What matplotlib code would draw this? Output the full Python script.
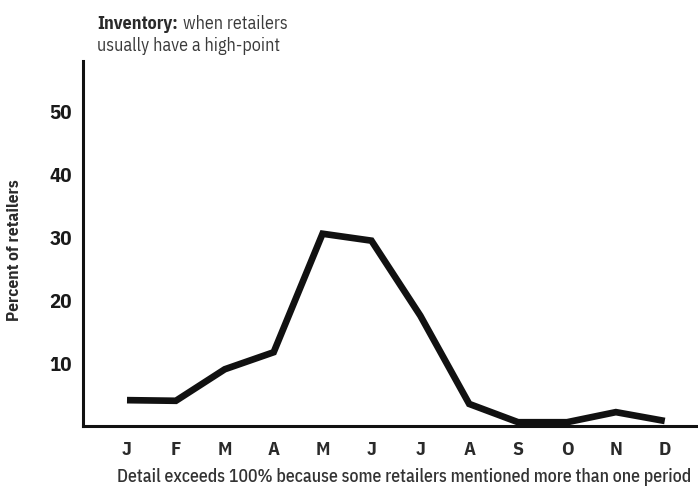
import matplotlib
matplotlib.use("Agg")
import matplotlib.pyplot as plt

months = ["J", "F", "M", "A", "M", "J", "J", "A", "S", "O", "N", "D"]
pct_retailers = [4.1, 4.0, 9.0, 11.7, 30.5, 29.4, 17.5, 3.5, 0.6, 0.6, 2.2, 0.8]
y_ticks = [10, 20, 30, 40, 50]

plt.rcParams["font.family"] = ["IBM Plex Sans Condensed", "DejaVu Sans"]

W, H = 698, 489
fig = plt.figure(figsize=(W / 100, H / 100), dpi=100)
fig.patch.set_facecolor("white")

ax = fig.add_axes([83 / W, 62 / H, 615 / W, 365 / H])
x = list(range(len(months)))
ax.plot(x, pct_retailers, color="#111111", lw=4.8,
        solid_joinstyle="miter", solid_capstyle="butt")

ax.set_xlim(-0.9, 11.68)
ax.set_ylim(0, 57.9)

for side in ("top", "right"):
    ax.spines[side].set_visible(False)
for side in ("left", "bottom"):
    ax.spines[side].set_linewidth(2.2)
    ax.spines[side].set_color("#111111")

ax.set_xticks(x)
ax.set_xticklabels(months, fontsize=14, fontweight="bold", color="#2a2a2a")
ax.set_yticks(y_ticks)
ax.set_yticklabels([str(v) for v in y_ticks], fontsize=15, fontweight="bold", color="#1a1a1a")
ax.tick_params(axis="both", length=0)
ax.tick_params(axis="x", pad=10)
ax.tick_params(axis="y", pad=8)

fig.text(15 / W, 1 - 250 / H, "Percent of retailers", rotation=90, fontsize=12.5,
         fontweight="bold", color="#2a2a2a", va="center", ha="center")

# Title: bold lead-in followed by regular text
t1 = fig.text(97 / W, 1 - 24 / H, "Inventory:", fontsize=13, fontweight="bold",
              color="#2a2a2a", va="center", ha="left")
fig.canvas.draw()
bb = t1.get_window_extent(fig.canvas.get_renderer())
fig.text((bb.x1 + 5) / W, 1 - 24 / H, "when retailers", fontsize=13,
         color="#3a3a3a", va="center", ha="left")
fig.text(97 / W, 1 - 46 / H, "usually have a high-point", fontsize=13,
         color="#3a3a3a", va="center", ha="left")

fig.text(404 / W, 1 - 477 / H,
         "Detail exceeds 100% because some retailers mentioned more than one period",
         fontsize=12.8, fontweight="medium", color="#333333", va="center", ha="center")

fig.savefig("out.png", dpi=100, facecolor="white")
